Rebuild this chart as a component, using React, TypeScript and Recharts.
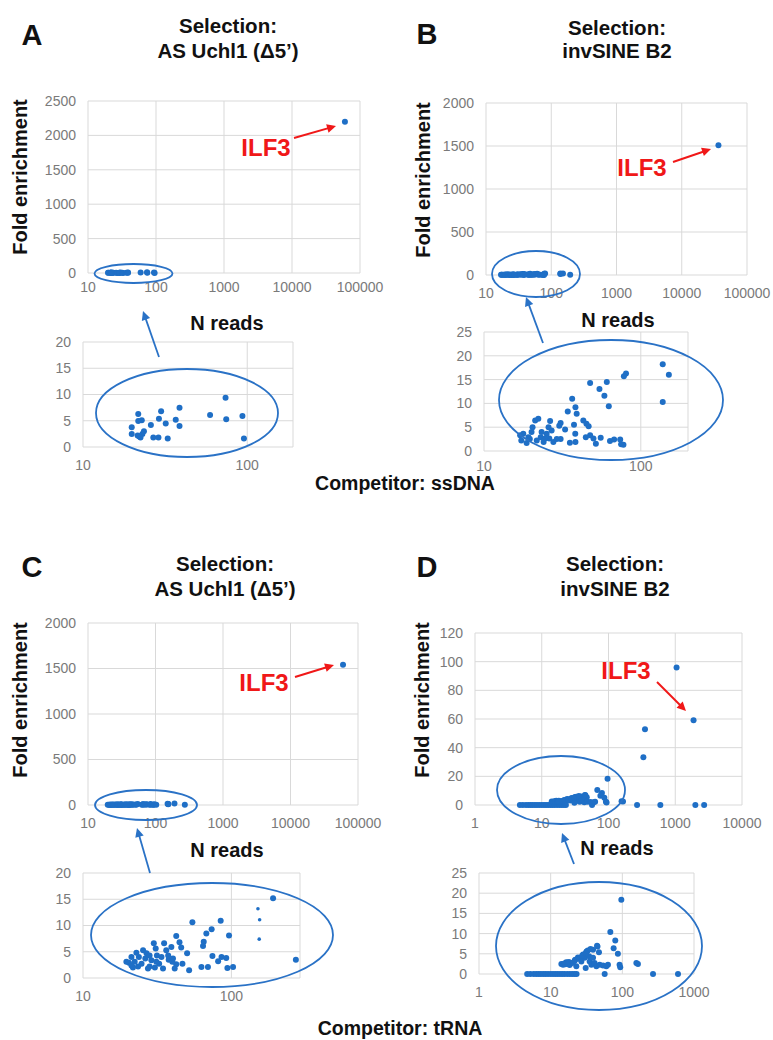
import React from 'react';
import { ScatterChart, Scatter, XAxis, YAxis, CartesianGrid } from 'recharts';

// ---- Panel A (competitor ssDNA, selection AS Uchl1) ----
const aReads = [19.8, 19.8, 21.7, 21.7, 21.5, 22, 22.8, 23, 23.5, 22.4, 25.9, 26.8, 28.8, 29.9, 29, 31.9, 32.8, 36.7, 38.7, 38.7, 59.4, 73.8, 74.5, 93.5, 95.5];
const aFold = [3.75, 2.5, 6.3, 4.95, 2.2, 2.0, 5.1, 2.5, 3.0, 1.8, 4.2, 1.8, 1.8, 6.8, 5.4, 4.5, 1.6, 5.2, 7.5, 4.0, 6.1, 9.4, 5.3, 5.9, 1.6];
const aIlf3 = [60000, 2200];

// ---- Panel B (competitor ssDNA, selection invSINE B2) ----
const bReads = [138, 151, 138, 80.5, 78, 47.5, 60.7, 54.5, 58.6, 62.5, 36.5, 38.3, 34.2, 39, 37.5, 43, 45, 46.5, 44.6, 38.2, 38.3, 35.3, 47.5, 49.9, 55.5, 51.7, 63.6, 67.6, 73.9, 74.9, 77.5, 30.8, 30.2, 32.9, 30.8, 29.1, 27.7, 26.1, 26.4, 25.8, 25.1, 24.0, 23.0, 22.2, 21.2, 20.4, 20.1, 19.2, 18.7, 17.8, 17.0, 17.3, 19.6, 21.7, 23.3, 24.5, 27.0];
const bFold = [18.2, 16.0, 10.3, 16.3, 15.7, 14.3, 14.5, 13.0, 11.6, 9.4, 11.0, 9.2, 8.3, 7.8, 5.5, 6.4, 5.7, 5.2, 2.9, 3.6, 1.9, 1.75, 3.3, 2.6, 2.8, 1.5, 2.1, 2.4, 2.4, 1.4, 1.3, 5.9, 5.3, 4.5, 2.5, 2.5, 1.9, 2.6, 6.3, 5.0, 3.6, 1.9, 2.9, 6.8, 6.4, 5.0, 4.0, 2.9, 1.7, 3.6, 3.3, 2.2, 2.5, 2.2, 4.0, 2.6, 4.3];
const bExtraReads = [195];
const bExtraFold = [3];
const bIlf3 = [36500, 1510];

// ---- Panel C (competitor tRNA, selection AS Uchl1) ----
const cReads = [191, 272, 54.6, 84.7, 96.4, 73.6, 67.8, 65.1, 64.4, 74.5, 85.8, 92.3, 81.4, 94, 102.6, 62.8, 69.5, 51.9, 42.5, 44.7, 45.9, 50.3, 46.8, 42.5, 40, 37.8, 41.5, 35.2, 39.4, 36.4, 30.9, 31.5, 32.6, 30.5, 28.9, 28.1, 26.8, 26.3, 25.4, 24.8, 23.8, 22.9, 22.3, 21.7, 21.2, 20.4, 19.6, 21.2, 23.5, 27.4, 34.6, 31.2, 28.1, 33.8, 40.4, 30, 37.5];
const cFold = [15.2, 3.5, 10.6, 10.9, 8.1, 9.3, 8.5, 6.9, 6.1, 4.2, 4.0, 3.8, 3.2, 1.9, 2.1, 2.1, 2.1, 1.5, 8.0, 6.8, 5.8, 4.7, 2.7, 2.6, 3.1, 3.5, 1.8, 6.6, 5.9, 5.3, 5.6, 4.3, 2.7, 2.0, 3.4, 2.2, 4.7, 3.7, 5.3, 2.7, 4.0, 4.8, 3.1, 2.0, 4.0, 2.9, 3.1, 2.4, 2.2, 1.8, 1.8, 3.1, 4.3, 4.0, 3.7, 6.6, 4.3];
const cSmallReads = [151, 155, 154];
const cSmallFold = [13.2, 11.1, 7.4];
const cIlf3 = [60000, 1540];

// ---- Panel D (competitor tRNA, selection invSINE B2) ----
const dReads = [4.7, 5.2, 5.8, 6.3, 6.8, 7.3, 7.9, 8.5, 9.2, 10, 10.8, 11.6, 12.5, 13.5, 14.5, 15.6, 17, 18.5, 20, 21.5, 23, 56.7, 268, 598,
  96.8, 68, 79.7, 75.6, 86.7, 91.5, 93.5, 157, 165, 44.4, 47.2, 39, 31.6, 28.3, 24.0, 21.6, 19.4, 16.5, 14.1, 14.9, 18.4, 22.8, 26.8, 29.8, 34.4, 35, 37, 41, 43.4, 48.3, 53.8, 59.8, 63, 30.8, 39,
  15.5, 16, 17, 17.5, 18, 20.5, 22, 25, 27.5, 31, 33, 36, 45];
const dFold = [0, 0, 0, 0, 0, 0, 0, 0, 0, 0, 0, 0, 0, 0, 0, 0, 0, 0, 0, 0, 0, 0, 0, 0,
  18.4, 10.4, 8.3, 6.4, 5.0, 2.3, 1.7, 2.7, 2.5, 7.0, 5.4, 6.0, 5.6, 4.8, 4.1, 3.3, 2.7, 2.9, 2.5, 2.3, 2.2, 1.9, 3.1, 4.0, 4.4, 3.1, 2.3, 2.7, 1.9, 2.3, 2.1, 1.9, 2.3, 1.5, 4.0,
  2.6, 2.4, 2.8, 2.5, 3.0, 2.8, 3.5, 3.8, 4.5, 5.2, 5.8, 6.2, 6.8];
const dExtraReads = [1047, 352, 333, 2000, 2710];
const dExtraFold = [96, 52.9, 33.3, 0, 0];
const dIlf3 = [1880, 59.2];

// axis ticks
const logTicks5 = [10, 100, 1000, 10000, 100000];
const logTicksD = [1, 10, 100, 1000, 10000];
const insetTicks10 = [10, 100];
const insetTicksD = [1, 10, 100, 1000];
const yTicks2500 = [0, 500, 1000, 1500, 2000, 2500];
const yTicks2000 = [0, 500, 1000, 1500, 2000];
const yTicks120 = [0, 20, 40, 60, 80, 100, 120];
const yTicks20 = [0, 5, 10, 15, 20];
const yTicks25 = [0, 5, 10, 15, 20, 25];

const BLUE = '#1f6fc6';
const RED = '#f01818';
const FONT = '"Liberation Sans", Arial, sans-serif';

const pts = (xs: number[], ys: number[]) => xs.map((x, i) => ({ x, y: ys[i] }));

const Dot = (r: number) => (props: any) => <circle cx={props.cx} cy={props.cy} r={r} fill={BLUE} />;

interface PanelProps {
  box: { x: number; y: number; w: number; h: number };
  xDomain: [number, number];
  xTicks: number[];
  yDomain: [number, number];
  yTicks: number[];
  data: { x: number; y: number }[];
  small?: { x: number; y: number }[];
  xMargin?: number;
}

const Panel: React.FC<PanelProps> = ({ box, xDomain, xTicks, yDomain, yTicks, data, small, xMargin = 7 }) => {
  const tick = { fill: '#7a7a7a', fontSize: 14 };
  return (
    <div style={{ position: 'absolute', left: box.x - 70, top: box.y - 10 }}>
      <ScatterChart width={box.w + 110} height={box.h + 50} margin={{ top: 10, right: 40, bottom: 0, left: 0 }}>
        <CartesianGrid stroke="#d9d9d9" />
        <XAxis type="number" dataKey="x" scale="log" domain={xDomain} ticks={xTicks} interval={0}
          allowDataOverflow axisLine={false} tickLine={false} tick={tick} tickMargin={xMargin} height={40} />
        <YAxis type="number" dataKey="y" domain={yDomain} ticks={yTicks} interval={0}
          axisLine={false} tickLine={false} tick={tick} tickMargin={6} width={70} />
        <Scatter data={data} shape={Dot(3)} isAnimationActive={false} />
        {small && <Scatter data={small} shape={Dot(1.8)} isAnimationActive={false} />}
      </ScatterChart>
    </div>
  );
};

const Arrow = ({ x1, y1, x2, y2, color, w = 2 }: any) => {
  const a = Math.atan2(y2 - y1, x2 - x1);
  const L = 10, s = 0.45;
  const p1 = [x2 - L * Math.cos(a - s), y2 - L * Math.sin(a - s)];
  const p2 = [x2 - L * Math.cos(a + s), y2 - L * Math.sin(a + s)];
  return (
    <g>
      <line x1={x1} y1={y1} x2={x2 - 6 * Math.cos(a)} y2={y2 - 6 * Math.sin(a)} stroke={color} strokeWidth={w} />
      <polygon points={`${x2},${y2} ${p1[0]},${p1[1]} ${p2[0]},${p2[1]}`} fill={color} />
    </g>
  );
};

const T = ({ x, y, size, children, color = '#111', rotate }: any) => (
  <text x={x} y={y} fontSize={size} fontWeight="bold" fill={color} textAnchor="middle" dominantBaseline="central"
    transform={rotate ? `rotate(-90 ${x} ${y})` : undefined}>{children}</text>
);

export default function App() {
  const aData = pts(aReads, aFold);
  const bData = pts(bReads, bFold);
  const cData = pts(cReads, cFold);
  const cSmall = pts(cSmallReads, cSmallFold);
  const dData = pts(dReads, dFold);
  return (
    <div style={{ position: 'absolute', left: 0, top: 0, width: 773, height: 1040, background: '#fff', fontFamily: FONT, overflow: 'hidden' }}>
      {/* A */}
      <Panel box={{ x: 88, y: 101, w: 272, h: 172 }} xDomain={[10, 100000]} xTicks={logTicks5} yDomain={[0, 2500]} yTicks={yTicks2500}
        data={[...aData, { x: aIlf3[0], y: aIlf3[1] }]} xMargin={3} />
      <Panel box={{ x: 83, y: 342, w: 210, h: 105 }} xDomain={[10, 190]} xTicks={insetTicks10} yDomain={[0, 20]} yTicks={yTicks20} data={aData} />
      {/* B */}
      <Panel box={{ x: 486, y: 103, w: 261, h: 172 }} xDomain={[10, 100000]} xTicks={logTicks5} yDomain={[0, 2000]} yTicks={yTicks2000}
        data={[...bData, ...pts(bExtraReads, bExtraFold), { x: bIlf3[0], y: bIlf3[1] }]} />
      <Panel box={{ x: 484, y: 332, w: 204, h: 119 }} xDomain={[10, 200]} xTicks={insetTicks10} yDomain={[0, 25]} yTicks={yTicks25} data={bData} xMargin={4} />
      {/* C */}
      <Panel box={{ x: 88, y: 623, w: 270, h: 182 }} xDomain={[10, 100000]} xTicks={logTicks5} yDomain={[0, 2000]} yTicks={yTicks2000}
        data={[...cData, ...cSmall, { x: cIlf3[0], y: cIlf3[1] }]} />
      <Panel box={{ x: 83, y: 873, w: 217, h: 105 }} xDomain={[10, 290]} xTicks={insetTicks10} yDomain={[0, 20]} yTicks={yTicks20} data={cData} small={cSmall} />
      {/* D */}
      <Panel box={{ x: 475, y: 633, w: 267, h: 172 }} xDomain={[1, 10000]} xTicks={logTicksD} yDomain={[0, 120]} yTicks={yTicks120}
        data={[...dData, ...pts(dExtraReads, dExtraFold), { x: dIlf3[0], y: dIlf3[1] }]} />
      <Panel box={{ x: 479, y: 873, w: 215, h: 101 }} xDomain={[1, 1000]} xTicks={insetTicksD} yDomain={[0, 25]} yTicks={yTicks25} data={dData} />

      <svg width={773} height={1040} style={{ position: 'absolute', left: 0, top: 0, pointerEvents: 'none' }} fontFamily={FONT}>
        {/* panel letters */}
        <T x={32} y={35} size={29}>A</T>
        <T x={427} y={34} size={29}>B</T>
        <T x={32} y={567} size={29}>C</T>
        <T x={427} y={567} size={29}>D</T>
        {/* titles */}
        <T x={228} y={25} size={20.5}>Selection:</T>
        <T x={228} y={50} size={20.5}>AS Uchl1 (Δ5’)</T>
        <T x={617} y={27} size={20.5}>Selection:</T>
        <T x={617} y={50} size={20.5}>invSINE B2</T>
        <T x={225} y={563} size={20.5}>Selection:</T>
        <T x={225} y={588} size={20.5}>AS Uchl1 (Δ5’)</T>
        <T x={615} y={563} size={20.5}>Selection:</T>
        <T x={615} y={588} size={20.5}>invSINE B2</T>
        {/* y titles */}
        <T x={20} y={177} size={20} rotate>Fold enrichment</T>
        <T x={423} y={180} size={20} rotate>Fold enrichment</T>
        <T x={20} y={700} size={20} rotate>Fold enrichment</T>
        <T x={422} y={700} size={20} rotate>Fold enrichment</T>
        {/* x titles */}
        <T x={227} y={323} size={20}>N reads</T>
        <T x={618} y={320} size={20}>N reads</T>
        <T x={227} y={850} size={20}>N reads</T>
        <T x={617} y={848} size={20}>N reads</T>
        {/* competitor */}
        <T x={405} y={483} size={19.5}>Competitor: ssDNA</T>
        <T x={400} y={1028} size={19.5}>Competitor: tRNA</T>
        {/* ILF3 */}
        <T x={266} y={147} size={24} color={RED}>ILF3</T>
        <T x={642} y={167} size={24} color={RED}>ILF3</T>
        <T x={264} y={682} size={24} color={RED}>ILF3</T>
        <T x={626} y={670} size={24} color={RED}>ILF3</T>
        <Arrow x1={294} y1={138} x2={336} y2={126} color={RED} />
        <Arrow x1={673} y1={162} x2={711} y2={149} color={RED} />
        <Arrow x1={295} y1={677} x2={334} y2={665} color={RED} />
        <Arrow x1={657} y1={682} x2={686} y2={711} color={RED} />
        {/* ellipses */}
        <g fill="none" stroke="#2a72c6" strokeWidth={1.8}>
          <ellipse cx={133.5} cy={273.5} rx={39} ry={9.5} />
          <ellipse cx={187} cy={413} rx={91} ry={44} />
          <ellipse cx={536} cy={274} rx={44} ry={23} />
          <ellipse cx={611} cy={400} rx={112} ry={60} />
          <ellipse cx={146} cy={805} rx={51} ry={15} />
          <ellipse cx={212} cy={935} rx={121} ry={52} />
          <ellipse cx={561} cy={790} rx={64} ry={34} />
          <ellipse cx={599} cy={946} rx={103} ry={64} />
        </g>
        <Arrow x1={159} y1={357} x2={143} y2={311} color="#2a72c6" w={1.8} />
        <Arrow x1={543} y1={343} x2={526} y2={297} color="#2a72c6" w={1.8} />
        <Arrow x1={150} y1={873} x2={137} y2={828} color="#2a72c6" w={1.8} />
        <Arrow x1={574} y1={864} x2={562} y2={833} color="#2a72c6" w={1.8} />
      </svg>
    </div>
  );
}
